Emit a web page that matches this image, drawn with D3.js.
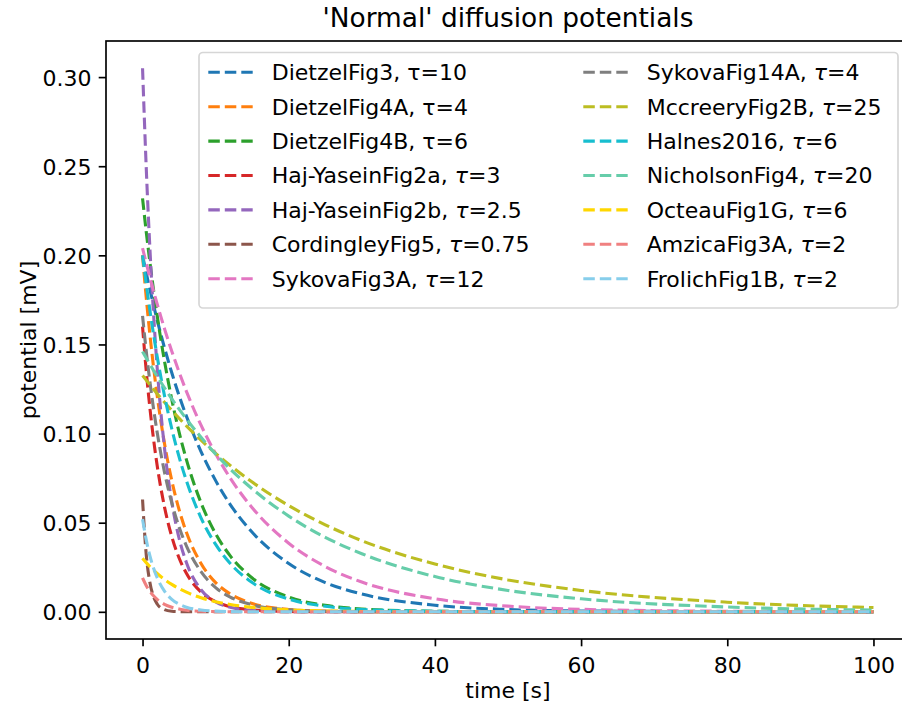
<!DOCTYPE html>
<html>
<head>
<meta charset="utf-8">
<script src="https://cdnjs.cloudflare.com/ajax/libs/d3/7.8.5/d3.min.js"></script>
<style>
  body { margin: 0; background: #fff; }
  svg { display: block; font-family: "DejaVu Sans", sans-serif; }
</style>
</head>
<body>
<svg id="chart"></svg>
<script>
// ---- data ----
const times = [0, 0.5, 1, 1.5, 2, 3, 4, 5, 6, 8, 10, 12, 15, 20, 25, 30, 40, 50, 60, 80, 100];

const names = ["DietzelFig3", "DietzelFig4A", "DietzelFig4B", "Haj-YaseinFig2a", "Haj-YaseinFig2b",
  "CordingleyFig5", "SykovaFig3A", "SykovaFig14A", "MccreeryFig2B", "Halnes2016",
  "NicholsonFig4", "OcteauFig1G", "AmzicaFig3A", "FrolichFig1B"];
const taus = ["10", "4", "6", "3", "2.5", "0.75", "12", "4", "25", "6", "20", "6", "2", "2"];
const colors = ["#1f77b4", "#ff7f0e", "#2ca02c", "#d62728", "#9467bd", "#8c564b", "#e377c2",
  "#7f7f7f", "#bcbd22", "#17becf", "#66cdaa", "#ffd700", "#f08080", "#87ceeb"];

const dietzelFig3 = [0.2, 0.1902, 0.1810, 0.1721, 0.1637, 0.1482, 0.1341, 0.1213, 0.1098, 0.0899, 0.0736, 0.0602, 0.0446, 0.0271, 0.0164, 0.0100, 0.0037, 0.0013, 0.0005, 0.0001, 0];
const dietzelFig4A = [0.2, 0.1765, 0.1558, 0.1375, 0.1213, 0.0945, 0.0736, 0.0573, 0.0446, 0.0271, 0.0164, 0.0100, 0.0047, 0.0013, 0.0004, 0.0001, 0, 0, 0, 0, 0];
const dietzelFig4B = [0.232, 0.2134, 0.1964, 0.1807, 0.1662, 0.1407, 0.1191, 0.1008, 0.0854, 0.0612, 0.0438, 0.0314, 0.0190, 0.0083, 0.0036, 0.0016, 0.0003, 0.0001, 0, 0, 0];
const hajYaseinFig2a = [0.16, 0.1354, 0.1146, 0.0970, 0.0821, 0.0589, 0.0422, 0.0302, 0.0216, 0.0111, 0.0057, 0.0029, 0.0011, 0.0002, 0, 0, 0, 0, 0, 0, 0];
const hajYaseinFig2b = [0.305, 0.2497, 0.2044, 0.1674, 0.1370, 0.0919, 0.0616, 0.0413, 0.0277, 0.0124, 0.0056, 0.0025, 0.0008, 0.0001, 0, 0, 0, 0, 0, 0, 0];
const cordingleyFig5 = [0.063, 0.0323, 0.0166, 0.0085, 0.0044, 0.0012, 0.0003, 0.0001, 0, 0, 0, 0, 0, 0, 0, 0, 0, 0, 0, 0, 0];
const sykovaFig3A = [0.204, 0.1957, 0.1877, 0.1800, 0.1727, 0.1589, 0.1462, 0.1345, 0.1237, 0.1047, 0.0887, 0.0750, 0.0584, 0.0385, 0.0254, 0.0167, 0.0073, 0.0032, 0.0014, 0.0003, 0];
const sykovaFig14A = [0.166, 0.1465, 0.1293, 0.1141, 0.1007, 0.0784, 0.0611, 0.0476, 0.0370, 0.0225, 0.0136, 0.0083, 0.0039, 0.0011, 0.0003, 0.0001, 0, 0, 0, 0, 0];
const mccreeryFig2B = [0.1326, 0.1300, 0.1274, 0.1249, 0.1224, 0.1176, 0.1130, 0.1086, 0.1043, 0.0963, 0.0889, 0.0821, 0.0728, 0.0596, 0.0488, 0.0399, 0.0268, 0.0179, 0.0120, 0.0054, 0.0024];
const halnes2016 = [0.2, 0.1840, 0.1693, 0.1558, 0.1433, 0.1213, 0.1027, 0.0869, 0.0736, 0.0527, 0.0378, 0.0271, 0.0164, 0.0071, 0.0031, 0.0013, 0.0003, 0, 0, 0, 0];
const nicholsonFig4 = [0.146, 0.1424, 0.1389, 0.1354, 0.1321, 0.1257, 0.1195, 0.1137, 0.1082, 0.0979, 0.0885, 0.0801, 0.0690, 0.0537, 0.0418, 0.0326, 0.0198, 0.0120, 0.0073, 0.0027, 0.0010];
const octeauFig1G = [0.03, 0.0276, 0.0254, 0.0234, 0.0215, 0.0182, 0.0154, 0.0130, 0.0110, 0.0079, 0.0057, 0.0041, 0.0025, 0.0011, 0.0005, 0.0002, 0, 0, 0, 0, 0];
const amzicaFig3A = [0.019, 0.0148, 0.0115, 0.0090, 0.0070, 0.0042, 0.0026, 0.0016, 0.0009, 0.0003, 0.0001, 0, 0, 0, 0, 0, 0, 0, 0, 0, 0];
const frolichFig1B = [0.052, 0.0405, 0.0315, 0.0246, 0.0191, 0.0116, 0.0070, 0.0043, 0.0026, 0.0010, 0.0004, 0.0001, 0, 0, 0, 0, 0, 0, 0, 0, 0];

const seriesValues = [dietzelFig3, dietzelFig4A, dietzelFig4B, hajYaseinFig2a, hajYaseinFig2b,
  cordingleyFig5, sykovaFig3A, sykovaFig14A, mccreeryFig2B, halnes2016,
  nicholsonFig4, octeauFig1G, amzicaFig3A, frolichFig1B];

const xTicks = [0, 20, 40, 60, 80, 100];
const yTicks = [0, 0.05, 0.10, 0.15, 0.20, 0.25, 0.30];

// ---- layout ----
const width = 902, height = 711;
const plot = { left: 106, right: 910, top: 41, bottom: 639 };
const fontSize = 22;

const svg = d3.select("#chart").attr("width", width).attr("height", height);

// matplotlib style 5% margins around the data
const xExt = d3.extent(times);
const yExt = [d3.min(seriesValues, s => d3.min(s)), d3.max(seriesValues, s => d3.max(s))];
const xPad = (xExt[1] - xExt[0]) * 0.05;
const yPad = (yExt[1] - yExt[0]) * 0.05;

const x = d3.scaleLinear().domain([xExt[0] - xPad, xExt[1] + xPad]).range([plot.left, plot.right]);
const y = d3.scaleLinear().domain([yExt[0] - yPad, yExt[1] + yPad]).range([plot.bottom, plot.top]);

// ---- lines ----
const line = d3.line()
  .x((d, i) => x(times[i]))
  .y(d => y(d))
  .curve(d3.curveMonotoneX);

svg.append("g")
  .selectAll("path")
  .data(seriesValues)
  .join("path")
  .attr("d", d => line(d))
  .attr("fill", "none")
  .attr("stroke", (d, i) => colors[i])
  .attr("stroke-width", 3.1)
  .attr("stroke-dasharray", "11.5,5");

// ---- axes ----
const xAxis = svg.append("g")
  .attr("transform", `translate(0,${plot.bottom})`)
  .call(d3.axisBottom(x).tickValues(xTicks).tickSize(7.3).tickPadding(7.3).tickFormat(d3.format("d")));

const yAxis = svg.append("g")
  .attr("transform", `translate(${plot.left},0)`)
  .call(d3.axisLeft(y).tickValues(yTicks).tickSize(7.3).tickPadding(7.3).tickFormat(d3.format(".2f")));

[xAxis, yAxis].forEach(g => {
  g.select(".domain").remove();
  g.selectAll(".tick line").attr("stroke", "#000").attr("stroke-width", 1.67);
  g.selectAll(".tick text")
    .attr("fill", "#000")
    .style("font-family", "DejaVu Sans")
    .style("font-size", fontSize + "px");
});
xAxis.selectAll(".tick text").attr("dy", "0.86em");
yAxis.selectAll(".tick text").attr("dy", "0.36em");

// frame
svg.append("rect")
  .attr("x", plot.left)
  .attr("y", plot.top)
  .attr("width", plot.right - plot.left)
  .attr("height", plot.bottom - plot.top)
  .attr("fill", "none")
  .attr("stroke", "#000")
  .attr("stroke-width", 1.67);

// ---- titles ----
const midX = (plot.left + plot.right) / 2;

svg.append("text")
  .attr("x", midX)
  .attr("y", 27)
  .attr("text-anchor", "middle")
  .style("font-size", "26.4px")
  .text("'Normal' diffusion potentials");

svg.append("text")
  .attr("x", midX)
  .attr("y", 698)
  .attr("text-anchor", "middle")
  .style("font-size", fontSize + "px")
  .text("time [s]");

svg.append("text")
  .attr("transform", `translate(36,${(plot.top + plot.bottom) / 2}) rotate(-90)`)
  .attr("text-anchor", "middle")
  .style("font-size", fontSize + "px")
  .text("potential [mV]");

// ---- legend ----
const legend = svg.append("g").attr("class", "legend");

legend.append("rect")
  .attr("x", 199)
  .attr("y", 52.5)
  .attr("width", 699)
  .attr("height", 255.5)
  .attr("rx", 4)
  .attr("fill", "#fff")
  .attr("fill-opacity", 0.8)
  .attr("stroke", "#d6d6d6")
  .attr("stroke-width", 1.67);

const perCol = 7;
const colX = [208.3, 583.3];
const items = legend.selectAll(".legend-item")
  .data(names)
  .join("g")
  .attr("class", "legend-item")
  .attr("transform", (d, i) => `translate(${colX[Math.floor(i / perCol)]},${72.3 + (i % perCol) * 34.4})`);

items.append("line")
  .attr("x1", 0)
  .attr("x2", 44.4)
  .attr("stroke", (d, i) => colors[i])
  .attr("stroke-width", 3.1)
  .attr("stroke-dasharray", "11.5,5");

const labels = items.append("text")
  .attr("x", 63.4)
  .attr("dy", "0.36em")
  .style("font-size", fontSize + "px");

labels.append("tspan").text(d => d + ", ");
labels.append("tspan")
  .style("font-style", (d, i) => i < 3 ? "normal" : "italic")
  .text("τ");
labels.append("tspan").text((d, i) => "=" + taus[i]);
</script>
</body>
</html>
